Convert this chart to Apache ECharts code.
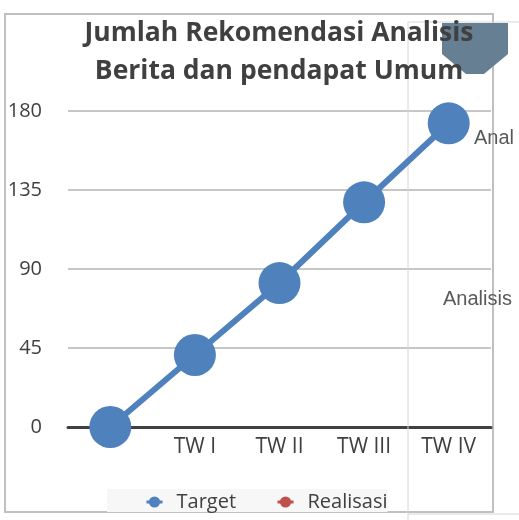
<!DOCTYPE html>
<html><head><meta charset="utf-8">
<script src="https://cdn.jsdelivr.net/npm/echarts@6/dist/echarts.min.js"></script>
<style>html,body{margin:0;padding:0;background:#fff}#c{width:519px;height:520px}</style>
</head><body><div id="c"></div>
<script>
var categories = ['', 'TW I', 'TW II', 'TW III', 'TW IV'];
var targetValues = [0, 41, 82, 128, 173];
var realisasiValues = [null, null, null, null, null];
var yTicks = [0, 45, 90, 135, 180];

var chart = echarts.init(document.getElementById('c'));
chart.setOption({
  animation: false,
  backgroundColor: '#fff',
  title: {
    text: 'Jumlah Rekomendasi Analisis\nBerita dan pendapat Umum',
    left: 279, top: 14, textAlign: 'center', padding: 0, z: 10,
    textStyle: { fontFamily: 'Open Sans', fontWeight: 'bold', fontSize: 26.5, color: '#404040', lineHeight: 38 }
  },
  legend: {
    top: 489, left: 107, width: 318, height: 23,
    padding: [3, 0, 0, 38],
    backgroundColor: '#f7f7f7',
    itemWidth: 16, itemHeight: 14, itemGap: 40,
    lineStyle: { width: 3 },
    textStyle: { fontFamily: 'Open Sans', fontSize: 20, color: '#404040', padding: [0, 0, 0, 9] },
    data: ['Target', 'Realisasi']
  },
  grid: { left: 68, right: 28, top: 111, bottom: 93 },
  xAxis: {
    type: 'category', data: categories, boundaryGap: true,
    axisLine: { lineStyle: { color: '#404040', width: 3 } },
    axisTick: { show: false },
    axisLabel: { fontFamily: 'Open Sans', fontSize: 21, color: '#404040', margin: 10 }
  },
  yAxis: {
    type: 'value', min: yTicks[0], max: yTicks[yTicks.length - 1], interval: 45,
    axisLine: { show: false }, axisTick: { show: false },
    axisLabel: { fontFamily: 'Open Sans', fontSize: 20, color: '#404040', margin: 26 },
    splitLine: { lineStyle: { color: '#c6c6c6', width: 2 } }
  },
  series: [
    { name: 'Target', type: 'line', data: targetValues, symbol: 'circle', symbolSize: 42,
      itemStyle: { color: '#4f81bd' }, lineStyle: { width: 6, color: '#4f81bd' }, z: 3 },
    { name: 'Realisasi', type: 'line', data: realisasiValues, symbol: 'circle', symbolSize: 42,
      itemStyle: { color: '#c0504d' }, lineStyle: { width: 6, color: '#c0504d' } }
  ],
  graphic: [
    { type: 'rect', shape: { x: 5, y: 14, width: 488, height: 498 }, style: { fill: null, stroke: '#c0c0c0', lineWidth: 2 }, z: 0, silent: true },
    { type: 'polygon', shape: { points: [[442, 23], [508, 23], [508, 54], [484, 74], [466, 74], [442, 54]] }, style: { fill: '#677f93' }, z: 1 },
    { type: 'polyline', shape: { points: [[408, 520], [408, 22], [519, 22]] }, style: { fill: null, stroke: '#d6d6d6', lineWidth: 1 }, z: 2 },
    { type: 'polyline', shape: { points: [[408, 514], [519, 514]] }, style: { fill: null, stroke: '#d6d6d6', lineWidth: 1 }, z: 100 },
    { type: 'text', left: 474, top: 128, style: { text: 'Anal', font: '20px "Liberation Sans"', fill: '#595959' }, z: 100 },
    { type: 'text', left: 443, top: 289, style: { text: 'Analisis', font: '20px "Liberation Sans"', fill: '#595959' }, z: 100 }
  ]
});
</script></body></html>
